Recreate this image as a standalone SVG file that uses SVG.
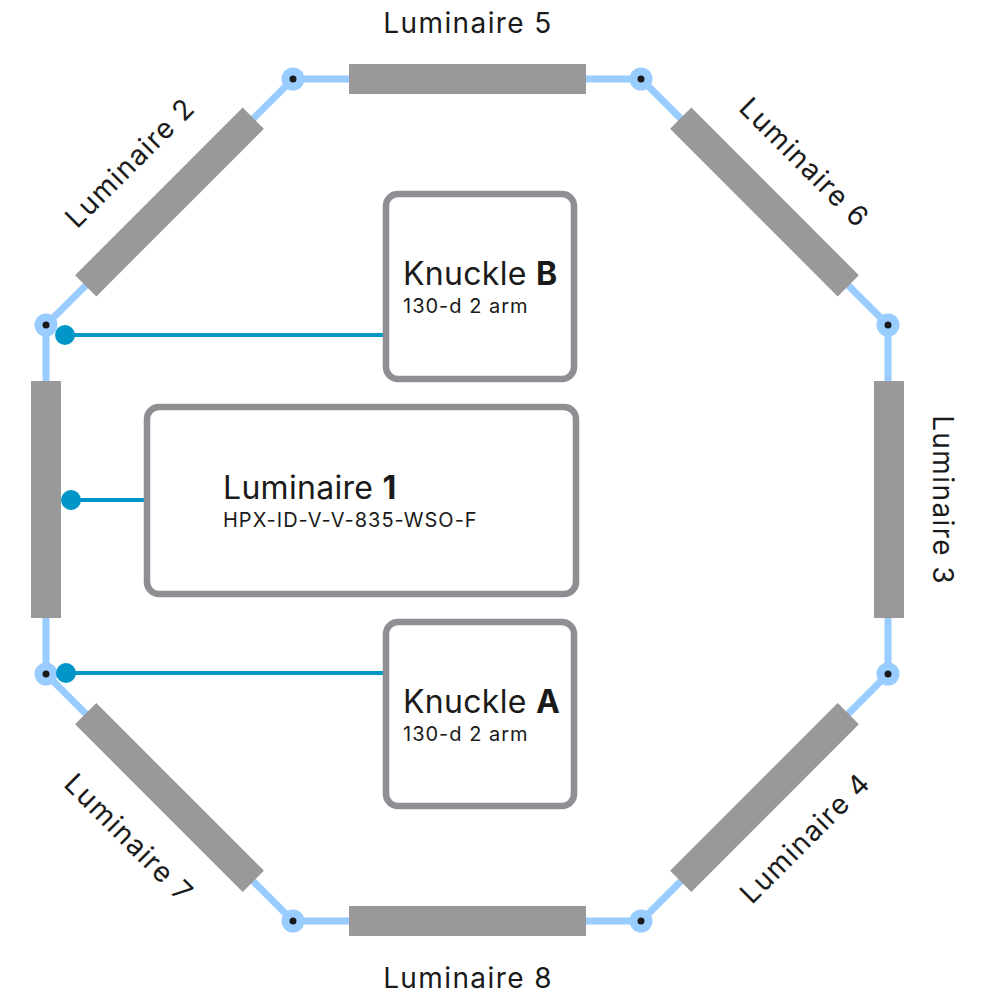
<svg xmlns="http://www.w3.org/2000/svg" width="993" height="994" viewBox="0 0 993 994">
<style>
.t{font-family:Inter,"Liberation Sans",sans-serif;fill:#1a1a1a}
.lbl{font-size:28px;letter-spacing:1.4px}
.ttl{font-size:32px;letter-spacing:0.3px}
.sub{font-size:20px;letter-spacing:1px}
.bar{fill:#999999}
.box{fill:#ffffff;stroke:#8e8e93;stroke-width:6.5}
.wire{fill:none;stroke:#99ccff;stroke-width:7;stroke-linejoin:round}
.vtx{fill:#99ccff}
.pin{fill:#1a1a1a}
.link{stroke:#0096c8;stroke-width:4}
.tap{fill:#0096c8}
</style>
<rect width="993" height="994" fill="#ffffff"/>
<g id="frame">
<polygon class="wire" points="293,79 641,79 888,325 888,674 641,921 293,921 46,674 46,325"/>
</g>
<g id="luminaire-5"><rect class="bar" x="349" y="64" width="237" height="30"/><text class="t lbl" x="468" y="33" text-anchor="middle">Luminaire 5</text></g>
<g id="luminaire-8"><rect class="bar" x="349" y="906" width="237" height="30"/><text class="t lbl" x="468" y="988" text-anchor="middle">Luminaire 8</text></g>
<g id="luminaire-1-bar"><rect class="bar" x="31" y="381" width="30" height="237"/></g>
<g id="luminaire-3"><rect class="bar" x="874" y="381" width="30" height="237"/><text class="t lbl" transform="translate(933,500) rotate(90)" text-anchor="middle">Luminaire 3</text></g>
<g id="luminaire-2"><rect class="bar" transform="translate(169.5,202) rotate(-45)" x="-118.5" y="-15" width="237" height="30"/><text class="t lbl" transform="translate(137,169.5) rotate(-45)" text-anchor="middle">Luminaire 2</text></g>
<g id="luminaire-6"><rect class="bar" transform="translate(764.5,202) rotate(45)" x="-118.5" y="-15" width="237" height="30"/><text class="t lbl" transform="translate(797.5,169.5) rotate(45)" text-anchor="middle">Luminaire 6</text></g>
<g id="luminaire-7"><rect class="bar" transform="translate(169.5,797.5) rotate(45)" x="-118.5" y="-15" width="237" height="30"/><text class="t lbl" transform="translate(122,845) rotate(45)" text-anchor="middle">Luminaire 7</text></g>
<g id="luminaire-4"><rect class="bar" transform="translate(764.5,797.5) rotate(-45)" x="-118.5" y="-15" width="237" height="30"/><text class="t lbl" transform="translate(812,845) rotate(-45)" text-anchor="middle">Luminaire 4</text></g>
<g id="vertices">
<circle class="vtx" cx="293" cy="79" r="11.5"/><circle class="pin" cx="293" cy="79" r="3.5"/>
<circle class="vtx" cx="641" cy="79" r="11.5"/><circle class="pin" cx="641" cy="79" r="3.5"/>
<circle class="vtx" cx="888" cy="325" r="11.5"/><circle class="pin" cx="888" cy="325" r="3.5"/>
<circle class="vtx" cx="888" cy="674" r="11.5"/><circle class="pin" cx="888" cy="674" r="3.5"/>
<circle class="vtx" cx="641" cy="921" r="11.5"/><circle class="pin" cx="641" cy="921" r="3.5"/>
<circle class="vtx" cx="293" cy="921" r="11.5"/><circle class="pin" cx="293" cy="921" r="3.5"/>
<circle class="vtx" cx="46" cy="674" r="11.5"/><circle class="pin" cx="46" cy="674" r="3.5"/>
<circle class="vtx" cx="46" cy="325" r="11.5"/><circle class="pin" cx="46" cy="325" r="3.5"/>
</g>
<g id="connectors">
<line class="link" x1="65" y1="335" x2="386" y2="335"/><circle class="tap" cx="65" cy="335" r="10"/>
<line class="link" x1="71" y1="500" x2="147" y2="500"/><circle class="tap" cx="71" cy="500" r="10"/>
<line class="link" x1="66" y1="673" x2="386" y2="673"/><circle class="tap" cx="66" cy="673" r="10"/>
</g>
<g id="knuckle-b"><rect class="box" x="386" y="194" width="188" height="185" rx="12"/><text class="t ttl" x="403" y="285">Knuckle <tspan font-weight="bold">B</tspan></text><text class="t sub" x="403" y="313">130-d 2 arm</text></g>
<g id="luminaire-1"><rect class="box" x="147" y="407" width="429" height="187" rx="12"/><text class="t ttl" x="223" y="499">Luminaire <tspan font-weight="bold">1</tspan></text><text class="t sub" x="223" y="527">HPX-ID-V-V-835-WSO-F</text></g>
<g id="knuckle-a"><rect class="box" x="386" y="622" width="188" height="184" rx="12"/><text class="t ttl" x="403" y="713">Knuckle <tspan font-weight="bold">A</tspan></text><text class="t sub" x="403" y="741">130-d 2 arm</text></g>
</svg>
